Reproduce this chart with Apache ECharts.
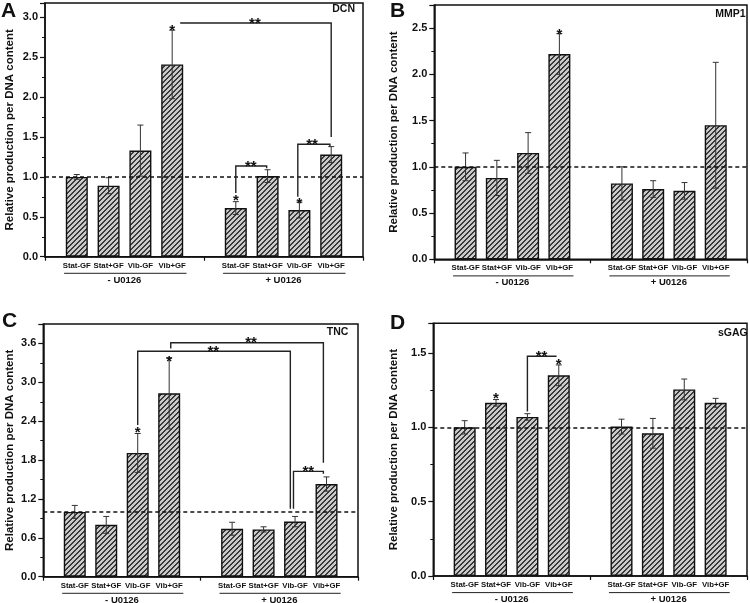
<!DOCTYPE html>
<html><head><meta charset="utf-8">
<script src="https://cdn.jsdelivr.net/npm/echarts@6/dist/echarts.min.js"></script>
<style>html,body{margin:0;padding:0;background:#fff}#c{width:750px;height:603px}</style>
</head><body><div id="c"></div>
<script>
// ---------------- data ----------------
const categories = ['Stat-GF', 'Stat+GF', 'Vib-GF', 'Vib+GF'];
const groups = ['- U0126', '+ U0126'];
const panelLetters = ['A', 'B', 'C', 'D'];
const panelNames = ['DCN', 'MMP1', 'TNC', 'sGAG'];
const yTitle = 'Relative production per DNA content';

// order: -U0126 (Stat-GF, Stat+GF, Vib-GF, Vib+GF), +U0126 (same)
const dcnValues  = [1.00, 0.89, 1.33, 2.41, 0.61, 1.01, 0.585, 1.28];
const dcnErrors  = [0.03, 0.10, 0.32, 0.43, 0.08, 0.08, 0.10, 0.10];
const mmp1Values = [1.00, 0.88, 1.15, 2.22, 0.82, 0.76, 0.74, 1.45];
const mmp1Errors = [0.15, 0.19, 0.22, 0.22, 0.18, 0.09, 0.09, 0.68];
const tncValues  = [1.00, 0.80, 1.91, 2.83, 0.74, 0.73, 0.85, 1.43];
const tncErrors  = [0.10, 0.13, 0.30, 0.55, 0.10, 0.04, 0.08, 0.11];
const sgagValues = [1.00, 1.165, 1.07, 1.35, 1.005, 0.96, 1.255, 1.165];
const sgagErrors = [0.045, 0.022, 0.022, 0.07, 0.05, 0.10, 0.07, 0.03];

// single asterisks: [slot position, y]
const dcnStars  = [[4, 2.88], [6, 0.75], [8, 0.70]];
const mmp1Stars = [[4, 2.47]];
const tncStars  = [[3, 2.27], [4, 3.37]];
const sgagStars = [[2, 1.215], [4, 1.444]];

// significance brackets "**": path points [slot position, y] and label anchor
const dcnBrackets = [
  { path: [[4.25, 2.93], [9, 2.93], [9, 1.50]], at: [6.6, 2.93] },
  { path: [[6, 0.80], [6, 1.137], [6.97, 1.137], [6.97, 1.11]], at: [6.47, 1.137] },
  { path: [[7.95, 0.75], [7.95, 1.41], [8.96, 1.41], [8.96, 1.38]], at: [8.4, 1.41] }
];
const mmp1Brackets = [];
const tncBrackets = [
  { path: [[3, 2.34], [3, 3.48], [7.85, 3.48], [7.85, 1.05]], at: [5.4, 3.48] },
  { path: [[4.05, 3.52], [4.05, 3.61], [8.9, 3.61], [8.9, 1.76]], at: [6.6, 3.61] },
  { path: [[7.95, 1.05], [7.95, 1.625], [8.9, 1.625], [8.9, 1.59]], at: [8.42, 1.625] }
];
const sgagBrackets = [
  { path: [[3, 1.107], [3, 1.478], [3.93, 1.478]], at: [3.45, 1.478] }
];

// ---------------- layout / style ----------------
const FONT = "'Liberation Sans', Arial, sans-serif";
const INK = '#111';
const axisCats = ['', ...categories, '', ...categories, ''];
const slotX = k => 1 + k + (k >= 4 ? 1 : 0);

const panels = [
  { letter: panelLetters[0], name: panelNames[0], values: dcnValues, errors: dcnErrors, stars: dcnStars, brackets: dcnBrackets,
    yMax: 3.18, yStep: 0.5, grid: { left: 45, top: 3, width: 318, height: 253.7 }, nameGap: 29,
    letterPos: { left: 1, top: 1 }, namePos: { right: 395, top: 4 } },
  { letter: panelLetters[1], name: panelNames[1], values: mmp1Values, errors: mmp1Errors, stars: mmp1Stars, brackets: mmp1Brackets,
    yMax: 2.75, yStep: 0.5, grid: { left: 434.3, top: 5, width: 313, height: 254.3 }, nameGap: 34.5,
    letterPos: { left: 390, top: 1 }, namePos: { right: 4.3, top: 8.5 } },
  { letter: panelLetters[2], name: panelNames[2], values: tncValues, errors: tncErrors, stars: tncStars, brackets: tncBrackets,
    yMax: 3.9, yStep: 0.6, grid: { left: 43.3, top: 324, width: 314.7, height: 252.7 }, nameGap: 27.5,
    letterPos: { left: 2, top: 311 }, namePos: { right: 401.7, top: 326.5 } },
  { letter: panelLetters[3], name: panelNames[3], values: sgagValues, errors: sgagErrors, stars: sgagStars, brackets: sgagBrackets,
    yMax: 1.7, yStep: 0.5, grid: { left: 433.3, top: 323.3, width: 314.7, height: 252.7 }, nameGap: 33,
    letterPos: { left: 390, top: 313 }, namePos: { right: 2.3, top: 328 } }
];

function makeHatch() {
  const c = document.createElement('canvas');
  c.width = 5; c.height = 5;
  const g = c.getContext('2d');
  g.fillStyle = '#cacaca'; g.fillRect(0, 0, 5, 5);
  g.fillStyle = '#3a3a3a';
  for (let i = 0; i < 5; i++) { g.fillRect(i, 4 - i, 1, 1); g.fillRect(i, (5 - i) % 5, 1, 1); }
  return c;
}
const hatch = { image: makeHatch(), repeat: 'repeat' };

const option = { animation: false, backgroundColor: '#fff', grid: [], xAxis: [], yAxis: [], series: [], title: [] };

panels.forEach((p, pi) => {
  option.grid.push(Object.assign({ show: true, borderColor: INK, borderWidth: 1.5, backgroundColor: 'transparent', containLabel: false }, p.grid));
  // visible category axis (labels + ticks at 0, 5, 10)
  option.xAxis.push({
    type: 'category', gridIndex: pi, data: axisCats, boundaryGap: false, position: 'bottom',
    axisLine: { lineStyle: { color: INK, width: 1.5 } },
    axisTick: { show: true, inside: false, length: 4, interval: (i) => i % 5 === 0, lineStyle: { color: INK, width: 1.2 } },
    axisLabel: { interval: 0, fontSize: 7.8, fontWeight: 'bold', color: INK, fontFamily: FONT, margin: 5 },
    splitLine: { show: false }
  });
  // hidden numeric axis carrying marks at slot positions
  option.xAxis.push({ type: 'value', gridIndex: pi, min: 0, max: 10, show: false });
  option.yAxis.push({
    type: 'value', gridIndex: pi, min: 0, max: p.yMax, interval: p.yStep,
    name: yTitle, nameLocation: 'middle', nameGap: p.nameGap,
    nameTextStyle: { fontSize: 11.5, fontWeight: 'bold', color: INK, fontFamily: FONT },
    axisLine: { show: true, lineStyle: { color: INK, width: 1.5 } },
    axisTick: { show: true, inside: false, length: 5, lineStyle: { color: INK, width: 1.2 } },
    minorTick: { show: true, splitNumber: 2, length: 3, lineStyle: { color: INK, width: 1 } },
    splitLine: { show: false }, minorSplitLine: { show: false },
    axisLabel: { fontSize: 11, fontWeight: 'bold', color: INK, fontFamily: FONT, margin: 7,
      formatter: v => { const r = v / p.yStep; return Math.abs(r - Math.round(r)) < 1e-6 ? v.toFixed(1) : ''; } }
  });
  const xi = pi * 2 + 1;
  // bars
  option.series.push({
    type: 'bar', xAxisIndex: xi, yAxisIndex: pi, barWidth: 22,
    data: p.values.map((v, k) => [slotX(k), v]),
    itemStyle: { color: hatch, borderColor: INK, borderWidth: 1.4 },
    silent: true,
    markLine: {
      silent: true, symbol: ['none', 'none'], label: { show: false },
      lineStyle: { color: INK, width: 1.5, type: [4, 3] },
      data: [{ yAxis: 1 }]
    }
  });
  // error bars
  option.series.push({
    type: 'custom', xAxisIndex: xi, yAxisIndex: pi, silent: true, z: 4,
    data: p.values.map((v, k) => [slotX(k), v, p.errors[k]]),
    encode: { x: 0, y: 1 },
    renderItem: (params, api) => {
      const x = api.value(0), v = api.value(1), e = api.value(2);
      const t = api.coord([x, v + e]), b = api.coord([x, v - e]);
      const st = { stroke: '#333', lineWidth: 1 };
      return { type: 'group', children: [
        { type: 'line', shape: { x1: t[0], y1: t[1], x2: b[0], y2: b[1] }, style: st },
        { type: 'line', shape: { x1: t[0] - 3, y1: t[1], x2: t[0] + 3, y2: t[1] }, style: st },
        { type: 'line', shape: { x1: b[0] - 3, y1: b[1], x2: b[0] + 3, y2: b[1] }, style: st }
      ] };
    }
  });
  // single asterisks
  option.series.push({
    type: 'custom', xAxisIndex: xi, yAxisIndex: pi, silent: true, z: 6, clip: false,
    data: p.stars, encode: { x: 0, y: 1 },
    renderItem: (params, api) => {
      const c = api.coord([api.value(0), api.value(1)]);
      return { type: 'text', x: c[0], y: c[1] + 3.5,
        style: { text: '*', fontSize: 15, fontWeight: 'bold', fontFamily: FONT, fill: INK, align: 'center', verticalAlign: 'middle' } };
    }
  });
  // brackets
  if (p.brackets.length) {
    option.series.push({
      type: 'custom', xAxisIndex: xi, yAxisIndex: pi, silent: true, z: 6, clip: false,
      data: p.brackets.map(b => b.at), encode: { x: 0, y: 1 },
      renderItem: (params, api) => {
        const b = p.brackets[params.dataIndex];
        const pts = b.path.map(q => api.coord(q));
        const a = api.coord(b.at);
        return { type: 'group', children: [
          { type: 'polyline', shape: { points: pts }, style: { stroke: '#222', lineWidth: 1.4, fill: null } },
          { type: 'text', x: a[0], y: a[1] + 0.5, style: { text: '**', fontSize: 15, fontWeight: 'bold', fontFamily: FONT, fill: INK, align: 'center', verticalAlign: 'middle' } }
        ] };
      }
    });
  }
  // group underline + group label
  option.series.push({
    type: 'custom', xAxisIndex: xi, yAxisIndex: pi, silent: true, z: 6, clip: false,
    data: groups.map((g, gi) => [gi * 5 + 2.5, 0]), encode: { x: 0, y: 1 },
    renderItem: (params, api) => {
      const gi = params.dataIndex;
      const l = api.coord([slotX(gi * 4) - 0.4, 0]), r = api.coord([slotX(gi * 4 + 3) + 0.45, 0]);
      const c = api.coord([api.value(0), 0]);
      return { type: 'group', children: [
        { type: 'line', shape: { x1: l[0], y1: l[1] + 16.6, x2: r[0], y2: r[1] + 16.6 }, style: { stroke: '#222', lineWidth: 1 } },
        { type: 'text', x: c[0], y: c[1] + 23.5, style: { text: groups[gi], fontSize: 9.5, fontWeight: 'bold', fontFamily: FONT, fill: INK, align: 'center', verticalAlign: 'middle' } }
      ] };
    }
  });
  option.title.push(Object.assign({ text: p.letter, padding: 0,
    textStyle: { fontSize: 21, fontWeight: 'bold', color: INK, fontFamily: FONT } }, p.letterPos));
  option.title.push(Object.assign({ text: p.name, padding: 0,
    textStyle: { fontSize: 10.5, fontWeight: 'bold', color: INK, fontFamily: FONT } }, p.namePos));
});

const chart = echarts.init(document.getElementById('c'), null, { renderer: 'canvas' });
chart.setOption(option);
</script>
</body></html>
